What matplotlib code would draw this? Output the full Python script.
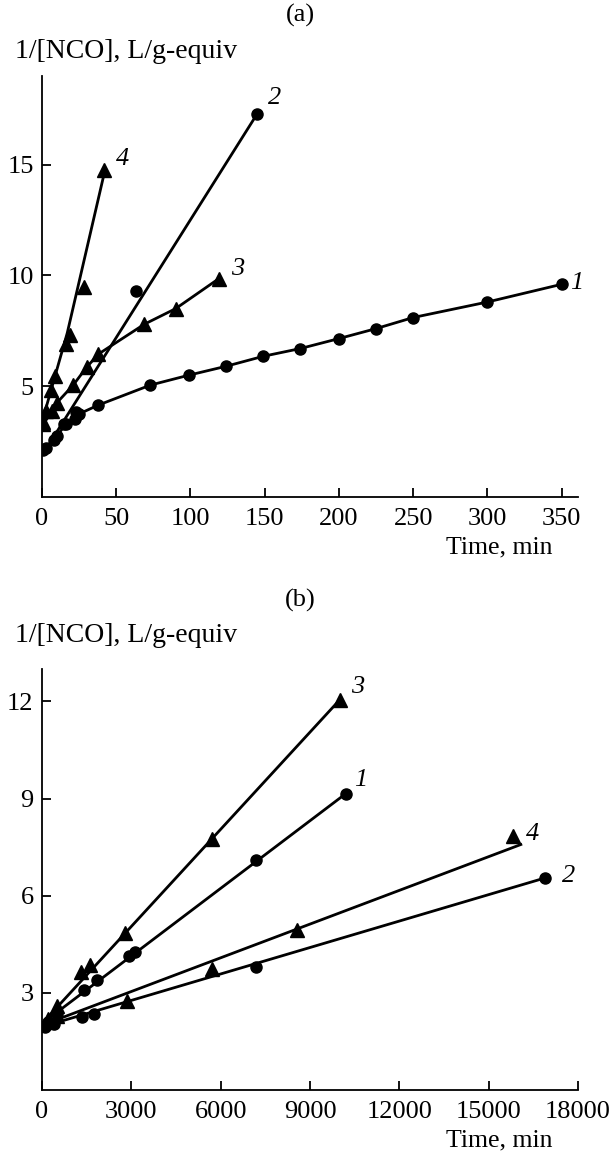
import matplotlib
matplotlib.use("Agg")
import matplotlib.pyplot as plt

plt.rcParams['font.family'] = ['Liberation Serif', 'DejaVu Serif']

# panel (a): time, min vs 1/[NCO]
a1_t = [1, 8, 16, 22, 25, 38, 73, 99, 124, 149, 174, 200, 225, 250, 300, 350]
a1_y = [2.1, 2.55, 3.3, 3.5, 3.75, 4.15, 5.05, 5.5, 5.9, 6.35, 6.7, 7.15, 7.6, 8.1, 8.8, 9.6]
a2_t = [3, 10, 15, 23, 63, 145]
a2_y = [2.2, 2.75, 3.3, 3.85, 9.3, 17.3]
a2_line_t = [3.5, 145]
a2_line_y = [2.25, 17.3]
a3_t = [1, 7, 10, 21, 30, 38, 69, 90, 119]
a3_y = [3.3, 3.9, 4.25, 5.05, 5.85, 6.45, 7.8, 8.5, 9.85]
a4_t = [1, 3, 6, 9, 16, 19, 28, 42]
a4_y = [3.4, 3.9, 4.85, 5.45, 6.9, 7.3, 9.5, 14.75]
a4_line_t = [0.5, 17, 42.4]
a4_line_y = [3.5, 7.4, 14.75]

# panel (b)
b1_t = [200, 500, 1420, 1840, 2930, 3120, 7180, 10200]
b1_y = [2.1, 2.35, 3.1, 3.4, 4.15, 4.25, 7.1, 9.15]
b1_line_t = [0, 10200]
b1_line_y = [2.05, 9.15]
b2_t = [100, 400, 1330, 1760, 7180, 16900]
b2_y = [1.95, 2.05, 2.25, 2.35, 3.8, 6.55]
b2_line_t = [0, 16900]
b2_line_y = [1.95, 6.55]
b3_t = [200, 500, 1300, 1600, 2800, 5700, 10000]
b3_y = [2.2, 2.6, 3.65, 3.85, 4.85, 7.75, 12.05]
b3_line_t = [0, 10000]
b3_line_y = [2.05, 12.05]
b4_t = [200, 500, 2850, 5700, 8550, 15830]
b4_y = [2.1, 2.3, 2.75, 3.75, 4.95, 7.85]
b4_line_t = [0, 16080]
b4_line_y = [2.0, 7.58]

W, H = 611, 1155
fig = plt.figure(figsize=(W / 100, H / 100), dpi=100)
ax_a = fig.add_axes([42 / W, 1 - 497 / H, 536 / W, 421 / H])
ax_b = fig.add_axes([42 / W, 1 - 1090 / H, 536 / W, 421 / H])

lw = 2.0
circ = dict(marker='o', ms=8, color='black', linestyle='none')
tri = dict(marker='^', ms=9.5, color='black', linestyle='none')

# (a)
ax_a.plot(a1_t, a1_y, color='black', lw=lw)
ax_a.plot(a1_t, a1_y, **circ)
ax_a.plot(a2_line_t, a2_line_y, color='black', lw=lw)
ax_a.plot(a2_t, a2_y, **circ)
ax_a.plot(a3_t, a3_y, color='black', lw=lw)
ax_a.plot(a3_t, a3_y, **tri)
ax_a.plot(a4_line_t, a4_line_y, color='black', lw=lw)
ax_a.plot(a4_t, a4_y, **tri)

lab = dict(fontsize=19, style='italic', textcoords='offset points', va='center')
ax_a.annotate('1', (a1_t[-1], a1_y[-1]), xytext=(6, 1), **lab)
ax_a.annotate('2', (a2_t[-1], a2_y[-1]), xytext=(8, 11), **lab)
ax_a.annotate('3', (a3_t[-1], a3_y[-1]), xytext=(9, 7), **lab)
ax_a.annotate('4', (a4_t[-1], a4_y[-1]), xytext=(8, 8), **lab)

ax_a.set_xlim(0, 361)
ax_a.set_ylim(0, 19)
ax_a.set_xticks([0, 50, 100, 150, 200, 250, 300, 350])
ax_a.set_yticks([5, 10, 15])

# (b)
ax_b.plot(b1_line_t, b1_line_y, color='black', lw=lw)
ax_b.plot(b1_t, b1_y, **circ)
ax_b.plot(b2_line_t, b2_line_y, color='black', lw=lw)
ax_b.plot(b2_t, b2_y, **circ)
ax_b.plot(b3_line_t, b3_line_y, color='black', lw=lw)
ax_b.plot(b3_t, b3_y, **tri)
ax_b.plot(b4_line_t, b4_line_y, color='black', lw=lw)
ax_b.plot(b4_t, b4_y, **tri)

ax_b.annotate('1', (b1_t[-1], b1_y[-1]), xytext=(6, 10), **lab)
ax_b.annotate('2', (b2_t[-1], b2_y[-1]), xytext=(12, 1), **lab)
ax_b.annotate('3', (b3_t[-1], b3_y[-1]), xytext=(8, 9), **lab)
ax_b.annotate('4', (b4_t[-1], b4_y[-1]), xytext=(9, 1), **lab)

ax_b.set_xlim(0, 18000)
ax_b.set_ylim(0, 13)
ax_b.set_xticks([0, 3000, 6000, 9000, 12000, 15000, 18000])
ax_b.set_yticks([3, 6, 9, 12])

for ax in (ax_a, ax_b):
    for s in ('top', 'right'):
        ax.spines[s].set_visible(False)
    for s in ('left', 'bottom'):
        ax.spines[s].set_linewidth(1.3)
    ax.tick_params(direction='in', length=6.5, width=1.3, labelsize=19)
    ax.tick_params(axis='x', pad=8)
    ax.tick_params(axis='y', pad=6)

fig.text(300 / W, 1 - 15 / H, '(a)', fontsize=19, ha='center', va='center')
fig.text(300 / W, 1 - 600 / H, '(b)', fontsize=19, ha='center', va='center')
fig.text(15 / W, 1 - 52 / H, '1/[NCO], L/g-equiv', fontsize=20, ha='left', va='center')
fig.text(15 / W, 1 - 636 / H, '1/[NCO], L/g-equiv', fontsize=20, ha='left', va='center')
fig.text(553 / W, 1 - 547 / H, 'Time, min', fontsize=18.5, ha='right', va='center')
fig.text(553 / W, 1 - 1140 / H, 'Time, min', fontsize=18.5, ha='right', va='center')

fig.savefig('out.png', dpi=100)
